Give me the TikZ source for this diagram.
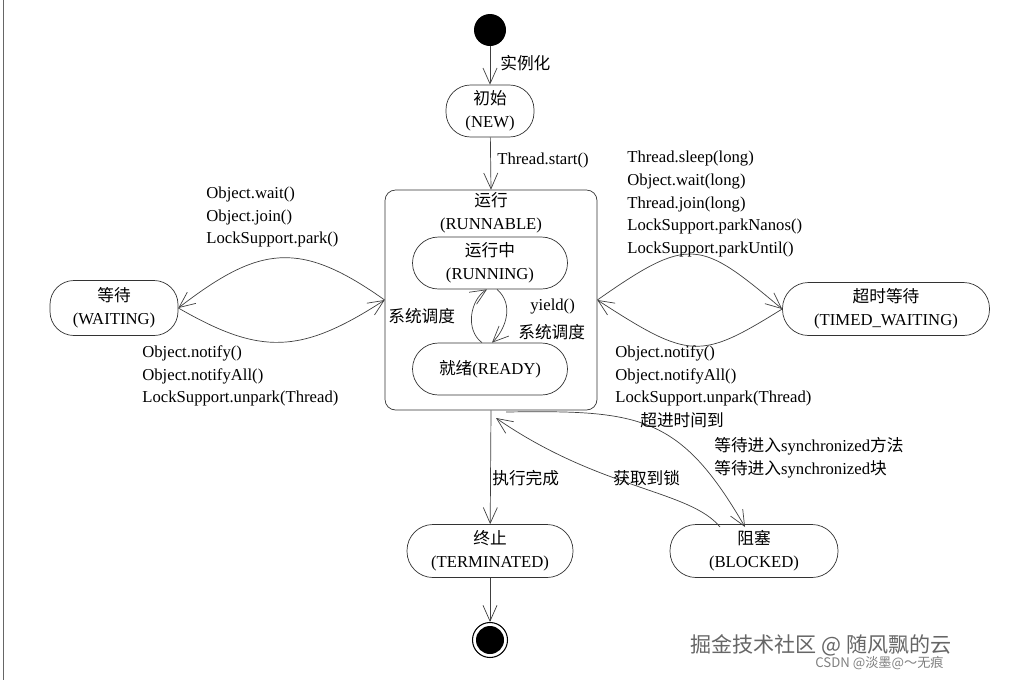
\documentclass[tikz,border=0pt]{standalone}
\usepackage{fontspec}
\setmainfont{Liberation Serif}
\newfontfamily\cjk{Noto Sans CJK SC}
\usetikzlibrary{arrows.meta}
\begin{document}
\begin{tikzpicture}[x=0.02cm,y=-0.02cm,
  every node/.style={font=\fontsize{9.5}{13}\selectfont, inner sep=0pt},
  st/.style={draw=black!80, rounded corners=#1, thin},
  lbl/.style={anchor=west, align=left},
  ar/.style={draw=black!75, -{Straight Barb[length=9pt,width=8pt]}}]
\useasboundingbox (0,0) rectangle (1020,680);
\draw[black!60] (3,0) -- (3,680);
% nodes
\node[circle, fill=black, minimum size=32*0.02cm] (start) at (490,30) {};
\node[st=14pt, minimum width=88*0.02cm, minimum height=52*0.02cm, align=center] (new) at (490,111) {{\cjk 初始}\\(NEW)};
\node[st=6pt, minimum width=212*0.02cm, minimum height=220*0.02cm] (run) at (491,300) {};
\node[align=center] (runlbl) at (491,213) {{\cjk 运行}\\(RUNNABLE)};
\node[st=26*0.02cm, minimum width=155*0.02cm, minimum height=52*0.02cm, align=center] (running) at (490,263) {{\cjk 运行中}\\(RUNNING)};
\node[st=26*0.02cm, minimum width=155*0.02cm, minimum height=52*0.02cm] (ready) at (490,369) {{\cjk 就绪}(READY)};
\node[st=24*0.02cm, minimum width=128*0.02cm, minimum height=55*0.02cm, align=center] (wait) at (114,308) {{\cjk 等待}\\(WAITING)};
\node[st=26*0.02cm, minimum width=207*0.02cm, minimum height=53*0.02cm, align=center] (timed) at (886,309) {{\cjk 超时等待}\\(TIMED\_WAITING)};
\node[st=26*0.02cm, minimum width=166*0.02cm, minimum height=53*0.02cm, align=center] (term) at (490,551) {{\cjk 终止}\\(TERMINATED)};
\node[st=26*0.02cm, minimum width=168*0.02cm, minimum height=53*0.02cm, align=center] (blk) at (754,551) {{\cjk 阻塞}\\(BLOCKED)};
\node[circle, draw=black, semithick, minimum size=35*0.02cm] (end) at (490,640) {};
\node[circle, fill=black, minimum size=28*0.02cm] (endin) at (490,640) {};
% edges
\draw[ar] (start) -- (new);
\draw[ar] (new) -- (run.north);
\draw[ar] (run.west) .. controls (300,240) and (260,245) .. (wait.east);
\draw[ar] (wait.east) .. controls (260,355) and (300,355) .. (run.west);
\draw[ar] (run.east) .. controls (690,235) and (700,240) .. (timed.west);
\draw[ar] (timed.west) .. controls (700,360) and (690,360) .. (run.east);
\draw[ar] (ready.north -| 482,0) .. controls (465,330) and (470,300) .. (running.south -| 487,0);
\draw[ar] (running.south -| 497,0) .. controls (515,305) and (505,330) .. (ready.north -| 492,0);
\draw[ar] (run.south) -- (term);
\draw[ar] (term) -- (end);
\coordinate (b1) at (506,412);
\coordinate (b2) at (745,527);
\coordinate (b3) at (720,527);
\coordinate (b4) at (496,418);
\draw[ar] (b1) .. controls (640,410) and (680,415) .. (b2);
\draw[ar] (b3) .. controls (690,490) and (600,490) .. (b4);
% labels
\node[lbl] at (500,63) {\cjk 实例化};
\node[lbl] at (497,160) {Thread.start()};
\node[lbl] at (206,217) {Object.wait()\\Object.join()\\LockSupport.park()};
\node[lbl] at (142,376) {Object.notify()\\Object.notifyAll()\\LockSupport.unpark(Thread)};
\node[lbl] at (627,204) {Thread.sleep(long)\\Object.wait(long)\\Thread.join(long)\\LockSupport.parkNanos()\\LockSupport.parkUntil()};
\node[lbl] at (615,376) {Object.notify()\\Object.notifyAll()\\LockSupport.unpark(Thread)};
\node[lbl] at (640,420) {\cjk 超进时间到};
\node[lbl] at (714,458) {{\cjk 等待进入}synchronized{\cjk 方法}\\{\cjk 等待进入}synchronized{\cjk 块}};
\node[lbl] at (492,478) {\cjk 执行完成};
\node[lbl] at (613,478) {\cjk 获取到锁};
\node[lbl] at (388,316) {\cjk 系统调度};
\node[lbl] at (530,307) {yield()};
\node[lbl] at (518,332) {\cjk 系统调度};
\node[lbl, font=\cjk\fontsize{12}{14}\selectfont, text=black!60] at (690,645) {掘金技术社区 @ 随风飘的云};
\node[lbl, font=\cjk\fontsize{7.5}{9}\selectfont, text=black!50] at (815,663) {CSDN @淡墨@～无痕};
\end{tikzpicture}
\end{document}
